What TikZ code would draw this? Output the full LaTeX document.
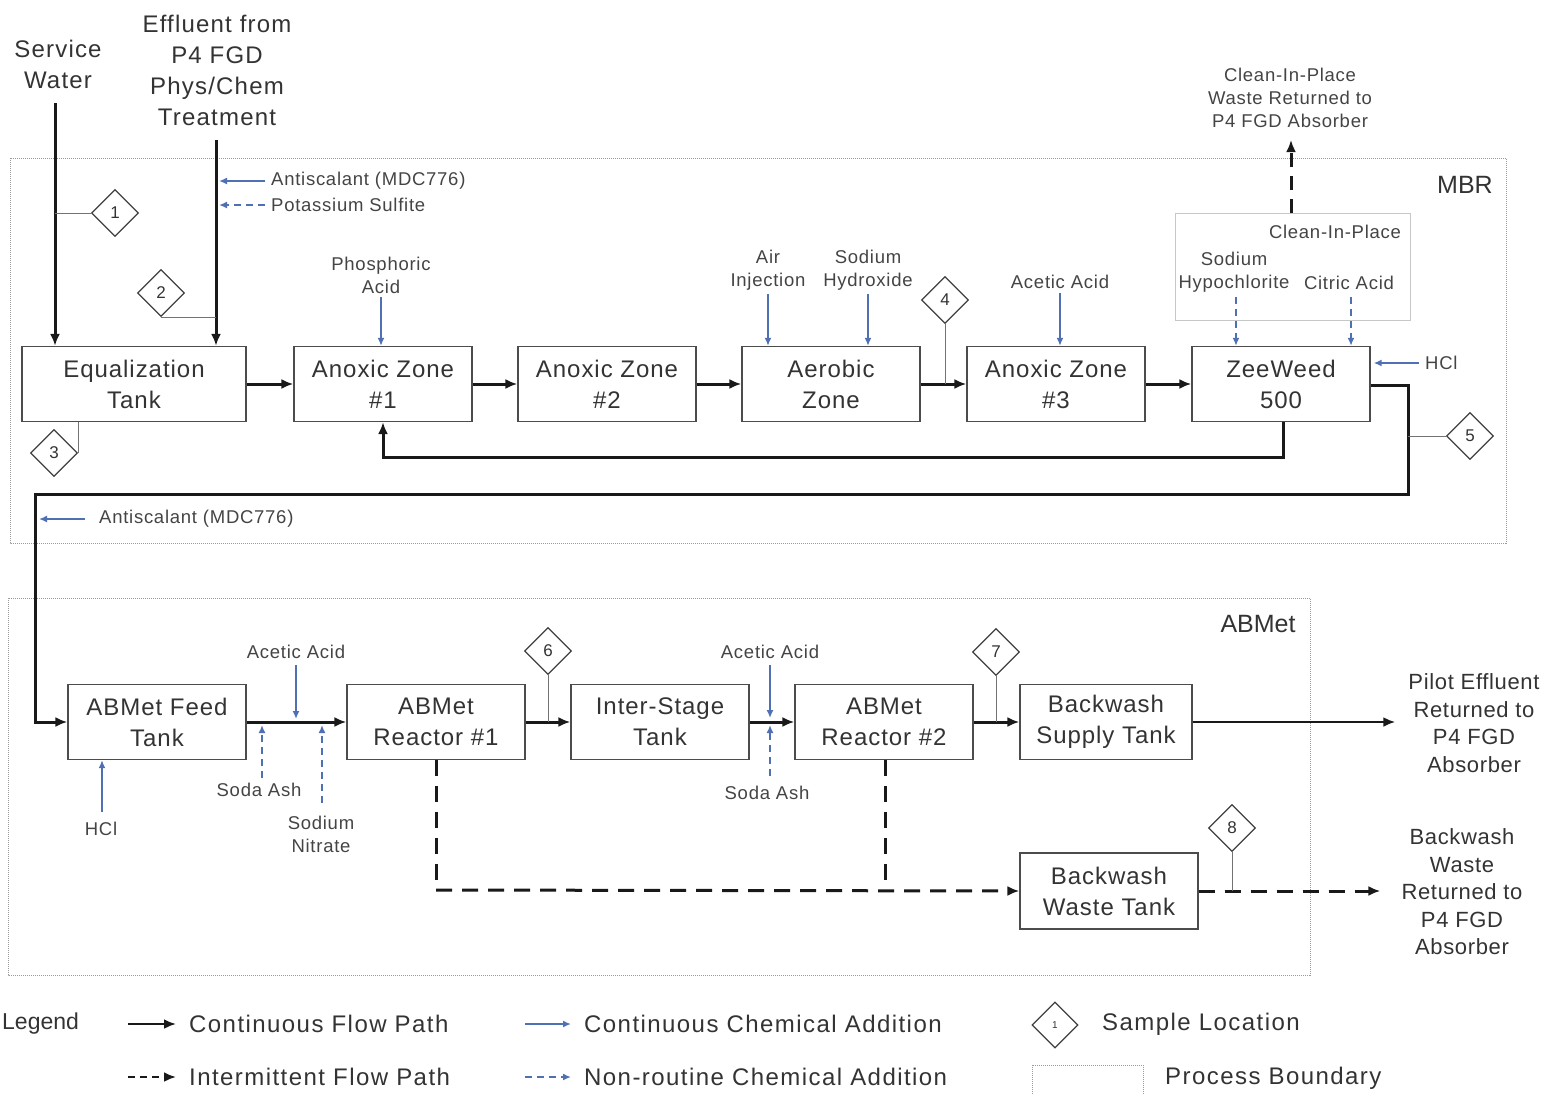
\documentclass[tikz,border=0pt]{standalone}
\usepackage{fontspec}
\setmainfont{Liberation Sans}
\usetikzlibrary{arrows.meta,shapes.geometric,calc}
\definecolor{txt}{HTML}{333333}
\definecolor{ltxt}{HTML}{444444}
\definecolor{chemblue}{HTML}{5070B4}
\definecolor{bnd}{HTML}{9A9A9A}
\begin{document}
\begin{tikzpicture}[x=1pt,y=-1pt,
  box/.style={draw=black!70,line width=1.3pt,minimum width=178pt,minimum height=75pt,align=center,inner sep=0pt,text=txt,font=\fontsize{24}{31}\selectfont\addfontfeature{LetterSpace=4}},
  hdr/.style={align=center,text=txt,inner sep=1pt,font=\fontsize{24}{31}\selectfont\addfontfeature{LetterSpace=5}},
  outlbl/.style={align=center,text=txt,inner sep=1pt,font=\fontsize{22}{27.5}\selectfont\addfontfeature{LetterSpace=3}},
  chemlbl/.style={align=center,text=ltxt,inner sep=1pt,font=\fontsize{18.5}{23}\selectfont\addfontfeature{LetterSpace=4}},
  bndlbl/.style={text=txt,inner sep=1pt,font=\fontsize{25}{30}\selectfont},
  flow/.style={line width=3pt,draw=black!90,-{Latex[length=12pt,width=10pt]}},
  flowline/.style={line width=3pt,draw=black!90},
  iflow/.style={line width=3pt,draw=black!90,dash pattern=on 16pt off 10pt,-{Latex[length=12pt,width=10pt]}},
  iflowline/.style={line width=3pt,draw=black!90,dash pattern=on 16pt off 10pt},
  chem/.style={line width=2pt,draw=chemblue,-{Latex[length=8pt,width=7pt]}},
  nchem/.style={line width=2pt,draw=chemblue,dash pattern=on 7pt off 5pt,-{Latex[length=8pt,width=7pt]}},
  stem/.style={line width=0.8pt,draw=black!55},
  sdiam/.style={diamond,draw=black!75,line width=1.2pt,minimum width=47pt,minimum height=47pt,inner sep=0pt,text=txt,font=\fontsize{17}{17}\selectfont},
  boundary/.style={draw=bnd,line width=1pt,densely dotted},
  legtxt/.style={text=txt,inner sep=1pt,anchor=west,font=\fontsize{24}{28}\selectfont\addfontfeature{LetterSpace=6}}
]
\useasboundingbox (0,0) rectangle (1543,1093);

% ---------- process boundaries ----------
\draw[boundary] (10,158) rectangle (1506,543);
\node[bndlbl] (mbrl) at (1465,185) {MBR};
\draw[boundary] (8,598) rectangle (1310,975);
\node[bndlbl] (abl) at (1258,624) {ABMet};

% ---------- MBR row ----------
\node[box,minimum width=224pt] (eq) at (134,384) {Equalization\\Tank};
\node[box] (az1) at (383,384) {Anoxic Zone\\\#1};
\node[box] (az2) at (607,384) {Anoxic Zone\\\#2};
\node[box] (aer) at (831,384) {Aerobic\\Zone};
\node[box] (az3) at (1056,384) {Anoxic Zone\\\#3};
\node[box] (zw) at (1281,384) {ZeeWeed\\500};

\draw[flow] (eq) -- (az1);
\draw[flow] (az1) -- (az2);
\draw[flow] (az2) -- (aer);
\draw[flow] (aer) -- (az3);
\draw[flow] (az3) -- (zw);

% inlets
\node[hdr] (sw) at (58,64) {Service\\Water};
\node[hdr] (eff) at (217,70) {Effluent from\\P4 FGD\\Phys/Chem\\Treatment};
\coordinate (swtop) at (55,103);
\coordinate (efftop) at (216,140);
\draw[flow] (swtop) -- (swtop |- eq.north);
\draw[flow] (efftop) -- (efftop |- eq.north);

% sample points 1-3
\node[sdiam] (d1) at (115,213) {1};
\draw[stem] (swtop |- d1.west) -- (d1.west);
\node[sdiam] (d2) at (161,293) {2};
\draw[stem] (d2.south) -- (d2.south -| efftop);
\node[sdiam] (d3) at (54,453) {3};
\draw[stem] (eq.south -| d3.east) -- (d3.east);

% chemicals to effluent line
\node[chemlbl,anchor=west] (as1) at (270,181) {Antiscalant (MDC776)};
\coordinate (as1a) at (265,181);
\draw[chem] (as1a) -- ([xshift=3pt]as1a -| efftop);
\node[chemlbl,anchor=west] (ps) at (270,205) {Potassium Sulfite};
\coordinate (psa) at (265,205);
\draw[nchem] (psa) -- ([xshift=3pt]psa -| efftop);

% chemicals to zones
\node[chemlbl] (pa) at (381,275) {Phosphoric\\Acid};
\draw[chem] ([yshift=-3pt]pa.south) -- (pa.south |- az1.north);
\node[chemlbl] (air) at (768,270) {Air\\Injection};
\draw[chem] ([yshift=-3pt]air.south) -- (air.south |- aer.north);
\node[chemlbl] (naoh) at (868,270) {Sodium\\Hydroxide};
\draw[chem] ([yshift=-3pt]naoh.south) -- (naoh.south |- aer.north);
\node[chemlbl] (aa1) at (1060,282) {Acetic Acid};
\draw[chem] ([yshift=-3pt]aa1.south) -- (aa1.south |- az3.north);

\node[sdiam] (d4) at (945,300) {4};
\draw[stem] (d4.south) -- (d4.south |- aer.east);

% clean in place
\node[draw=black!22,line width=1pt,minimum width=235pt,minimum height=107pt,inner sep=0pt] (cip) at (1292.5,266.5) {};
\node[chemlbl] (cipl) at (1335,232) {Clean-In-Place};
\node[chemlbl] (hypo) at (1234,272) {Sodium\\Hypochlorite};
\coordinate (hypoa) at (1236,297);
\draw[nchem] (hypoa) -- (hypoa |- zw.north);
\node[chemlbl] (cit) at (1349,283) {Citric Acid};
\coordinate (cita) at (1351,297);
\draw[nchem] (cita) -- (cita |- zw.north);
\node[chemlbl] (cipw) at (1290,98) {Clean-In-Place\\Waste Returned to\\P4 FGD Absorber};
\coordinate (cipo) at (1291,213);
\draw[iflow,dash pattern=on 14pt off 9pt] (cipo) -- (cipo |- 0,140);

\node[chemlbl,anchor=west] (hcl1) at (1424,363) {HCl};
\coordinate (hcl1a) at (1419,363);
\draw[chem] (hcl1a) -- ([xshift=3pt]zw.east |- hcl1a);

% recycle
\coordinate (rc) at (1283,457);
\draw[flow] (rc |- zw.south) -- (rc) -- (rc -| az1.south) -- (az1.south);

% MBR effluent to ABMet
\coordinate (ze1) at (1408,385);
\coordinate (ze2) at (1408,494);
\coordinate (ze3) at (35,494);
\node[box] (fdt) at (157,722) {ABMet Feed\\Tank};
\draw[flow] (zw.east |- ze1) -- (ze1) -- (ze2) -- (ze3) -- (ze3 |- fdt.west) -- (fdt.west);

\node[sdiam] (d5) at (1470,436) {5};
\draw[stem] (ze1 |- d5.west) -- (d5.west);

\node[chemlbl,anchor=west] (as2) at (98,519) {Antiscalant (MDC776)};
\coordinate (as2a) at (85,519);
\draw[chem] (as2a) -- ([xshift=4pt]as2a -| ze3);

% ---------- ABMet row ----------
\node[box] (r1) at (436,722) {ABMet\\Reactor \#1};
\node[box] (ist) at (660,722) {Inter-Stage\\Tank};
\node[box] (r2) at (884,722) {ABMet\\Reactor \#2};
\node[box,minimum width=172pt] (bst) at (1106,722) {Backwash\\Supply Tank};
\node[box,minimum height=76pt] (bwt) at (1109,891) {Backwash\\Waste Tank};

\draw[flow] (fdt) -- (r1);
\draw[flow] (r1) -- (ist);
\draw[flow] (ist) -- (r2);
\draw[flow] (r2) -- (bst);

\node[outlbl] (pe) at (1474,723) {Pilot Effluent\\Returned to\\P4 FGD\\Absorber};
\draw[flow,line width=2.5pt] (bst.east) -- ([xshift=-12pt]pe.west |- bst.east);

% chemicals ABMet
\node[chemlbl] (aa2) at (296,652) {Acetic Acid};
\draw[chem] ([yshift=-5pt]aa2.south) -- ([yshift=3pt]aa2.south |- fdt.east);
\node[chemlbl] (sa1) at (259,790) {Soda Ash};
\coordinate (sa1a) at (262,778);
\draw[nchem] (sa1a) -- ([yshift=-3pt]sa1a |- fdt.east);
\node[chemlbl] (sn) at (321,834) {Sodium\\Nitrate};
\coordinate (sna) at (322,803);
\draw[nchem] (sna) -- ([yshift=-3pt]sna |- fdt.east);
\node[chemlbl] (hcl2) at (101,829) {HCl};
\coordinate (hcl2a) at (102,812);
\draw[chem] (hcl2a) -- (hcl2a |- fdt.south);

\node[chemlbl] (aa3) at (770,652) {Acetic Acid};
\draw[chem] ([yshift=-5pt]aa3.south) -- ([yshift=4pt]aa3.south |- ist.east);
\node[chemlbl] (sa2) at (767,793) {Soda Ash};
\coordinate (sa2a) at (770,776);
\draw[nchem] (sa2a) -- ([yshift=-3pt]sa2a |- ist.east);

\node[sdiam] (d6) at (548,651) {6};
\draw[stem] (d6.south) -- (d6.south |- r1.east);
\node[sdiam] (d7) at (996,652) {7};
\draw[stem] (d7.south) -- (d7.south |- r2.east);

% backwash waste
\coordinate (bw1) at (436,890);
\coordinate (bw2) at (885,890);
\draw[iflowline] (r1.south) -- (bw1);
\draw[iflowline] (r2.south -| bw2) -- (bw2);
\draw[iflow] (bw1) -- (bwt.west);
\node[outlbl] (bwo) at (1462,892) {Backwash\\Waste\\Returned to\\P4 FGD\\Absorber};
\draw[iflow] (bwt.east) -- ([xshift=-20pt]bwo.west |- bwt.east);
\node[sdiam] (d8) at (1232,828) {8};
\draw[stem] (d8.south) -- (d8.south |- bwt.east);

% ---------- legend ----------
\node[legtxt,font=\fontsize{23}{28}\selectfont,anchor=west] (lg) at (1,1024) {Legend};
\coordinate (l1a) at (128,1024); \coordinate (l1b) at (176,1024);
\draw[flow,line width=2.5pt] (l1a) -- (l1b);
\node[legtxt] (l1t) at (188,1024) {Continuous Flow Path};
\coordinate (l2a) at (128,1077); \coordinate (l2b) at (176,1077);
\draw[iflow,line width=2.5pt,dash pattern=on 7pt off 5pt] (l2a) -- (l2b);
\node[legtxt] (l2t) at (188,1077) {Intermittent Flow Path};
\coordinate (l3a) at (525,1024); \coordinate (l3b) at (571,1024);
\draw[chem] (l3a) -- (l3b);
\node[legtxt] (l3t) at (583,1024) {Continuous Chemical Addition};
\coordinate (l4a) at (525,1077); \coordinate (l4b) at (571,1077);
\draw[nchem] (l4a) -- (l4b);
\node[legtxt] (l4t) at (583,1077) {Non-routine Chemical Addition};
\node[sdiam,minimum width=46pt,minimum height=46pt,font=\fontsize{10}{10}\selectfont] (ld) at (1055,1025) {1};
\node[legtxt] (l5t) at (1101,1024) {Sample Location};
\draw[boundary] (1032,1065) rectangle (1143,1110);
\node[legtxt] (l6t) at (1164,1078) {Process Boundary};
\end{tikzpicture}
\end{document}
